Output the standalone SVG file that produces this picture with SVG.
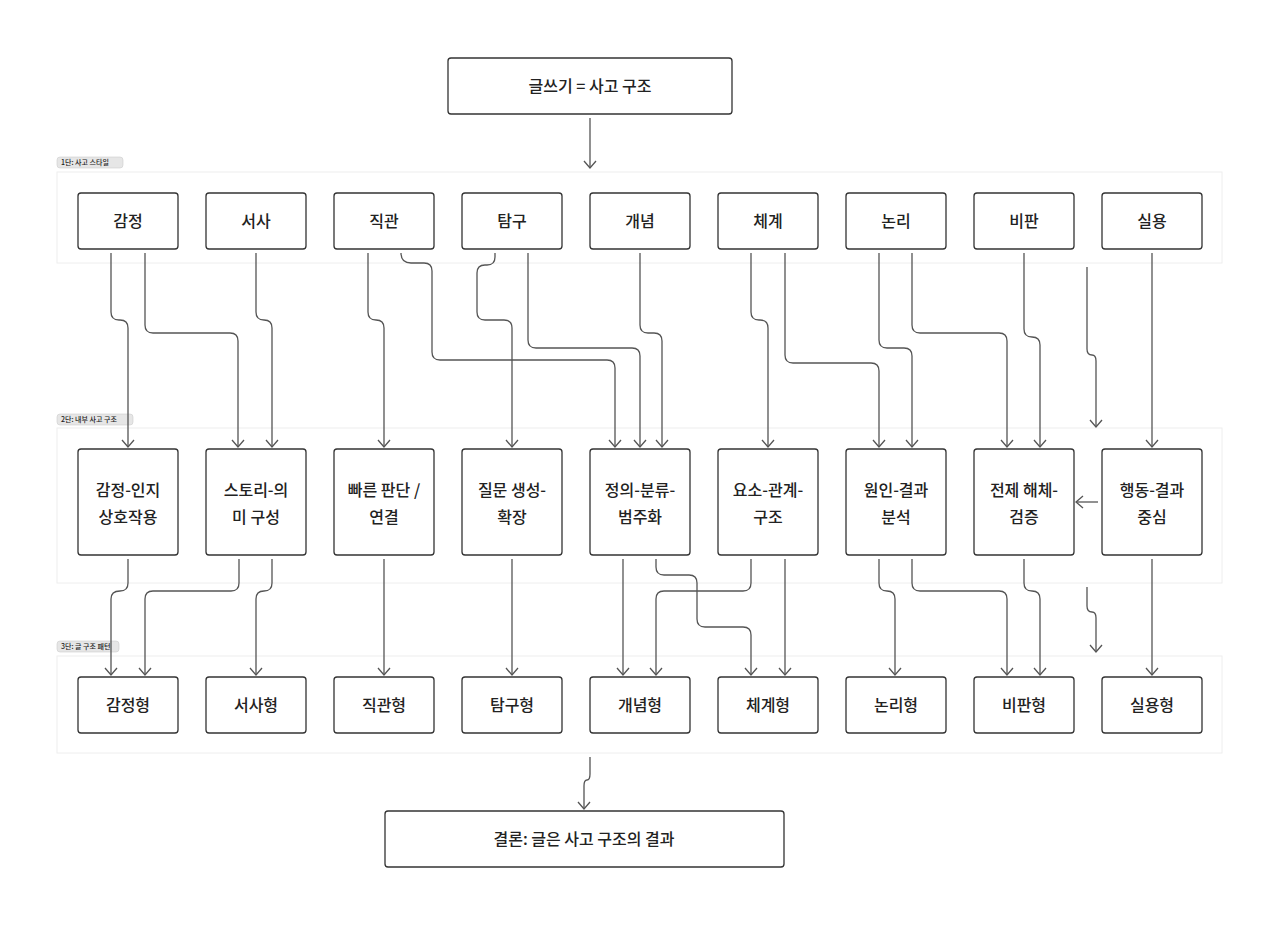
<svg xmlns="http://www.w3.org/2000/svg" width="1280" height="926" viewBox="0 0 1280 926">
<style>
.n rect{fill:#fff;stroke:#333;stroke-width:1.3}
.n text{font-family:"Noto Sans CJK KR","Noto Sans",sans-serif;font-size:16px;font-weight:500;fill:#222;text-anchor:middle}
.c path{fill:none;stroke:#555;stroke-width:1.3;marker-end:url(#a)}
.sg{fill:#fff;stroke:#eee;stroke-width:1}
.lb rect{fill:#e6e6e6;stroke:#ccc;stroke-width:.6}
.lb text{font-family:"Noto Sans CJK KR",sans-serif;font-size:7px;font-weight:500;fill:#222}
</style>
<defs><marker id="a" markerWidth="12" markerHeight="14" refX="10" refY="7" orient="auto" markerUnits="userSpaceOnUse" viewBox="0 0 12 14"><polyline points="3,1 10,7 3,13" fill="none" stroke="#555" stroke-width="1.3"/></marker></defs>
<rect width="1280" height="926" fill="#fff"/>
<rect class="sg" x="57" y="172" width="1165" height="91"/>
<rect class="sg" x="57" y="428" width="1165" height="155"/>
<rect class="sg" x="57" y="656" width="1165" height="97"/>
<g class="lb"><rect x="57" y="157" width="66" height="11" rx="3"/><text x="61" y="165">1단: 사고 스타일</text></g>
<g class="lb"><rect x="57" y="414" width="76" height="11" rx="3"/><text x="61" y="422">2단: 내부 사고 구조</text></g>
<g class="lb"><rect x="57" y="641" width="62" height="11" rx="3"/><text x="61" y="649">3단: 글 구조 패턴</text></g>
<g class="c">
<path d="M590 118V168"/>
<path d="M111 253V312Q111 320 119 320H120Q128 320 128 328V447"/>
<path d="M145 253V325Q145 333 153 333H230Q238 333 238 341V447"/>
<path d="M256 253V312Q256 320 264 320Q272 320 272 328V447"/>
<path d="M368 253V312Q368 320 376 320Q384 320 384 328V447"/>
<path d="M401 253Q401 263 411 263H424Q432 263 432 271V352Q432 360 440 360H607Q615 360 615 368V447"/>
<path d="M495 253V257Q495 265 487 265H485Q477 265 477 273V312Q477 320 485 320H504Q512 320 512 328V447"/>
<path d="M528 253V340Q528 348 536 348H632Q640 348 640 356V447"/>
<path d="M640 253V325Q640 333 648 333H654Q662 333 662 341V447"/>
<path d="M751 253V312Q751 320 759 320H760Q768 320 768 328V447"/>
<path d="M785 253V355Q785 363 793 363H871Q879 363 879 371V447"/>
<path d="M879 253V340Q879 348 887 348H904Q912 348 912 356V447"/>
<path d="M912 253V325Q912 333 920 333H999Q1007 333 1007 341V447"/>
<path d="M1024 253V329Q1024 337 1032 337Q1040 337 1040 345V447"/>
<path d="M1152 253V447"/>
<path d="M1087 267V349Q1087 355 1092 355Q1096 355 1096 361V427"/>
<path d="M1098 502H1076"/>
<path d="M128 559V583Q128 591 120 591Q111 591 111 599V675"/>
<path d="M239 559V583Q239 591 231 591H153Q145 591 145 599V675"/>
<path d="M272 559V583Q272 591 264 591Q256 591 256 599V675"/>
<path d="M384 559V675"/>
<path d="M512 559V675"/>
<path d="M623 559V675"/>
<path d="M656 559V567Q656 575 664 575H689Q697 575 697 583V619Q697 627 705 627H743Q751 627 751 635V675"/>
<path d="M751 559V583Q751 591 743 591H664Q656 591 656 599V675"/>
<path d="M785 559V675"/>
<path d="M879 559V583Q879 591 887 591Q895 591 895 599V675"/>
<path d="M912 559V583Q912 591 920 591H999Q1007 591 1007 599V675"/>
<path d="M1024 559V583Q1024 591 1032 591Q1040 591 1040 599V675"/>
<path d="M1087 587V606Q1087 612 1092 612Q1096 612 1096 618V652"/>
<path d="M1152 559V675"/>
<path d="M590 757V774Q590 780 587 780Q584 780 584 786V809"/>
</g>
<g id="top" class="n"><rect x="448" y="58" width="284" height="56" rx="3"/><text x="590" y="92">글쓰기 = 사고 구조</text></g>
<g id="s1" class="n"><rect x="78" y="193" width="100" height="56" rx="3"/><text x="128" y="227">감정</text></g>
<g id="s2" class="n"><rect x="206" y="193" width="100" height="56" rx="3"/><text x="256" y="227">서사</text></g>
<g id="s3" class="n"><rect x="334" y="193" width="100" height="56" rx="3"/><text x="384" y="227">직관</text></g>
<g id="s4" class="n"><rect x="462" y="193" width="100" height="56" rx="3"/><text x="512" y="227">탐구</text></g>
<g id="s5" class="n"><rect x="590" y="193" width="100" height="56" rx="3"/><text x="640" y="227">개념</text></g>
<g id="s6" class="n"><rect x="718" y="193" width="100" height="56" rx="3"/><text x="768" y="227">체계</text></g>
<g id="s7" class="n"><rect x="846" y="193" width="100" height="56" rx="3"/><text x="896" y="227">논리</text></g>
<g id="s8" class="n"><rect x="974" y="193" width="100" height="56" rx="3"/><text x="1024" y="227">비판</text></g>
<g id="s9" class="n"><rect x="1102" y="193" width="100" height="56" rx="3"/><text x="1152" y="227">실용</text></g>
<g id="m1" class="n"><rect x="78" y="449" width="100" height="106" rx="3"/><text x="128" y="496">감정-인지</text><text x="128" y="523">상호작용</text></g>
<g id="m2" class="n"><rect x="206" y="449" width="100" height="106" rx="3"/><text x="256" y="496">스토리-의</text><text x="256" y="523">미 구성</text></g>
<g id="m3" class="n"><rect x="334" y="449" width="100" height="106" rx="3"/><text x="384" y="496">빠른 판단 /</text><text x="384" y="523">연결</text></g>
<g id="m4" class="n"><rect x="462" y="449" width="100" height="106" rx="3"/><text x="512" y="496">질문 생성-</text><text x="512" y="523">확장</text></g>
<g id="m5" class="n"><rect x="590" y="449" width="100" height="106" rx="3"/><text x="640" y="496">정의-분류-</text><text x="640" y="523">범주화</text></g>
<g id="m6" class="n"><rect x="718" y="449" width="100" height="106" rx="3"/><text x="768" y="496">요소-관계-</text><text x="768" y="523">구조</text></g>
<g id="m7" class="n"><rect x="846" y="449" width="100" height="106" rx="3"/><text x="896" y="496">원인-결과</text><text x="896" y="523">분석</text></g>
<g id="m8" class="n"><rect x="974" y="449" width="100" height="106" rx="3"/><text x="1024" y="496">전제 해체-</text><text x="1024" y="523">검증</text></g>
<g id="m9" class="n"><rect x="1102" y="449" width="100" height="106" rx="3"/><text x="1152" y="496">행동-결과</text><text x="1152" y="523">중심</text></g>
<g id="p1" class="n"><rect x="78" y="677" width="100" height="56" rx="3"/><text x="128" y="711">감정형</text></g>
<g id="p2" class="n"><rect x="206" y="677" width="100" height="56" rx="3"/><text x="256" y="711">서사형</text></g>
<g id="p3" class="n"><rect x="334" y="677" width="100" height="56" rx="3"/><text x="384" y="711">직관형</text></g>
<g id="p4" class="n"><rect x="462" y="677" width="100" height="56" rx="3"/><text x="512" y="711">탐구형</text></g>
<g id="p5" class="n"><rect x="590" y="677" width="100" height="56" rx="3"/><text x="640" y="711">개념형</text></g>
<g id="p6" class="n"><rect x="718" y="677" width="100" height="56" rx="3"/><text x="768" y="711">체계형</text></g>
<g id="p7" class="n"><rect x="846" y="677" width="100" height="56" rx="3"/><text x="896" y="711">논리형</text></g>
<g id="p8" class="n"><rect x="974" y="677" width="100" height="56" rx="3"/><text x="1024" y="711">비판형</text></g>
<g id="p9" class="n"><rect x="1102" y="677" width="100" height="56" rx="3"/><text x="1152" y="711">실용형</text></g>
<g id="end" class="n"><rect x="385" y="811" width="399" height="56" rx="3"/><text x="584" y="845">결론: 글은 사고 구조의 결과</text></g>
</svg>
